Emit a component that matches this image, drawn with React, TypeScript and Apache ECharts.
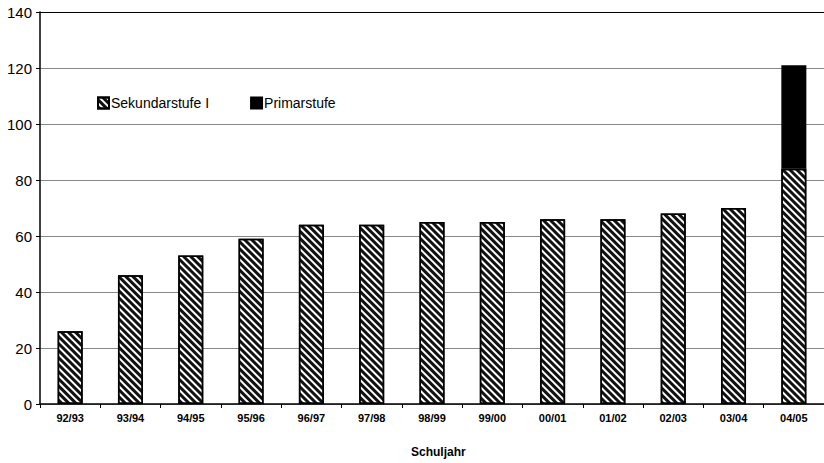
import React, { useEffect, useRef } from "react";
import * as echarts from "echarts";

const categories = ["92/93", "93/94", "94/95", "95/96", "96/97", "97/98", "98/99", "99/00", "00/01", "01/02", "02/03", "03/04", "04/05"];
const sekundarstufe = [26, 46, 53, 59, 64, 64, 65, 65, 66, 66, 68, 70, 84];
const primarstufe = [null, null, null, null, null, null, null, null, null, null, null, null, 37];
const yTicks = { min: 0, max: 140, interval: 20 };

export default function App() {
  const ref = useRef<HTMLDivElement>(null);
  useEffect(() => {
    const chart = echarts.init(ref.current!, null, { renderer: "svg" });
    const hatch = {
      symbol: "rect",
      symbolSize: 1,
      dashArrayX: [[1, 0]],
      dashArrayY: [3, 2],
      rotation: Math.PI / 4,
      color: "#111",
    };
    chart.setOption({
      animation: false,
      backgroundColor: "#fff",
      textStyle: { fontFamily: "Arial, 'Liberation Sans', sans-serif" },
      grid: { left: 40, top: 12, width: 789, height: 392, containLabel: false },
      legend: {
        left: 92,
        top: 91,
        itemWidth: 11,
        itemHeight: 11,
        itemGap: 41,
        textStyle: { fontSize: 14, color: "#000", padding: [0, 0, 0, -3] },
        data: [
          { name: "Sekundarstufe I", icon: "rect" },
          { name: "Primarstufe", icon: "rect" },
        ],
      },
      xAxis: {
        type: "category",
        data: categories,
        axisLine: { lineStyle: { color: "#000", width: 1.5 } },
        axisTick: { show: true, length: 4, lineStyle: { color: "#000" } },
        axisLabel: {
          margin: 8,
          fontSize: 11,
          fontWeight: "bold",
          color: "#000",
          fontFamily: "'Liberation Sans Narrow', Arial, sans-serif",
        },
      },
      yAxis: {
        type: "value",
        min: yTicks.min,
        max: yTicks.max,
        interval: yTicks.interval,
        axisLine: { show: true, lineStyle: { color: "#000", width: 1.5 } },
        axisTick: { show: true, length: 4, lineStyle: { color: "#000" } },
        axisLabel: { margin: 8, fontSize: 15, color: "#000" },
        splitLine: {
          show: true,
          lineStyle: { color: ["#888", "#888", "#888", "#888", "#888", "#888", "#888", "#000"], width: 1 },
        },
      },
      series: [
        {
          name: "Sekundarstufe I",
          type: "bar",
          stack: "total",
          data: sekundarstufe,
          barWidth: 25,
          itemStyle: { color: "#fff", borderColor: "#000", borderWidth: 1.5, decal: hatch },
        },
        {
          name: "Primarstufe",
          type: "bar",
          stack: "total",
          data: primarstufe,
          barWidth: 25,
          itemStyle: { color: "#000", borderColor: "#000", borderWidth: 1.5 },
        },
      ],
      graphic: [
        {
          type: "text",
          left: 411,
          top: 446,
          style: { text: "Schuljahr", fontSize: 12, fontWeight: "bold", fill: "#000", fontFamily: "Arial, sans-serif" },
        },
      ],
    });
    return () => chart.dispose();
  }, []);
  return <div ref={ref} style={{ position: "fixed", left: 0, top: 0, width: 824, height: 463 }} />;
}
